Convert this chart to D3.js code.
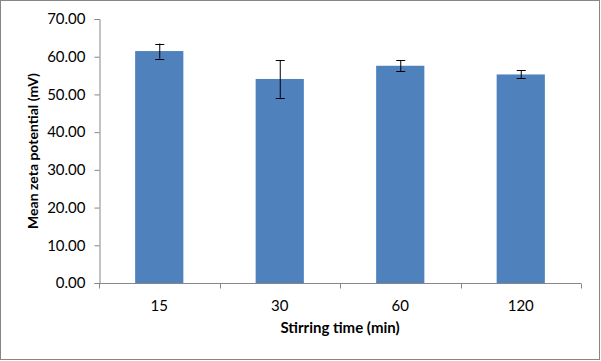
<!DOCTYPE html>
<html>
<head>
<meta charset="utf-8">
<script src="https://cdn.jsdelivr.net/npm/d3@7"></script>
<style>
  body { margin: 0; background: #fff; }
  text { font-family: Lato, "Open Sans", sans-serif; }
</style>
</head>
<body>
<svg id="chart" width="601" height="361"></svg>
<script>
const categories = ["15", "30", "60", "120"];
const means = [61.5, 54.1, 57.6, 55.3];
const errors = [2.0, 5.0, 1.5, 1.05];
const yTicks = [0, 10, 20, 30, 40, 50, 60, 70];

const svg = d3.select("#chart");
const margin = { left: 99, right: 20, top: 19, bottom: 78 };
const width = 601, height = 361;

// outer frame
svg.append("rect")
  .attr("x", 0.5).attr("y", 0.5)
  .attr("width", width - 2).attr("height", height - 2)
  .attr("fill", "#fff").attr("stroke", "#868686");

const x = d3.scaleBand()
  .domain(categories)
  .range([margin.left, width - margin.right])
  .paddingInner(0.6).paddingOuter(0.3);

const y = d3.scaleLinear()
  .domain([0, 70])
  .range([height - margin.bottom, margin.top]);

const data = categories.map((c, i) => ({ cat: c, mean: means[i], err: errors[i] }));

// bars
svg.selectAll(".bar")
  .data(data)
  .enter().append("rect")
  .attr("class", "bar")
  .attr("x", d => x(d.cat))
  .attr("y", d => y(d.mean))
  .attr("width", x.bandwidth())
  .attr("height", d => y(0) - y(d.mean))
  .attr("fill", "#4F81BD");

// y axis
const yAxis = svg.append("g")
  .attr("transform", `translate(${margin.left + 0.5},0)`)
  .call(d3.axisLeft(y).tickValues(yTicks).tickFormat(d3.format(".2f")).tickSize(5).tickPadding(9));
yAxis.select(".domain").attr("stroke", "#868686");
yAxis.selectAll(".tick line").attr("stroke", "#868686");
yAxis.selectAll(".tick text").attr("font-size", 15).attr("fill", "#000");

// x axis with tick marks between categories
const xAxisG = svg.append("g")
  .attr("transform", `translate(0,${y(0) + 0.5})`);
const xLeft = margin.left, xRight = width - margin.right;
xAxisG.append("line")
  .attr("x1", xLeft).attr("x2", xRight)
  .attr("stroke", "#868686");
const step = (xRight - xLeft) / categories.length;
xAxisG.selectAll(".xtick")
  .data(d3.range(categories.length + 1))
  .enter().append("line")
  .attr("x1", i => Math.round(xLeft + i * step) + 0.5)
  .attr("x2", i => Math.round(xLeft + i * step) + 0.5)
  .attr("y1", 0).attr("y2", 5)
  .attr("stroke", "#868686");
xAxisG.selectAll(".xlabel")
  .data(categories)
  .enter().append("text")
  .attr("x", d => x(d) + x.bandwidth() / 2)
  .attr("y", 27)
  .attr("text-anchor", "middle")
  .attr("font-size", 15)
  .text(d => d);

// error bars
const eb = svg.selectAll(".err")
  .data(data)
  .enter().append("g")
  .attr("stroke", "#000")
  .attr("stroke-width", 1);
eb.append("line")
  .attr("x1", d => x(d.cat) + x.bandwidth() / 2 + 0.5)
  .attr("x2", d => x(d.cat) + x.bandwidth() / 2 + 0.5)
  .attr("y1", d => y(d.mean + d.err))
  .attr("y2", d => y(d.mean - d.err));
eb.append("line")
  .attr("x1", d => x(d.cat) + x.bandwidth() / 2 - 4)
  .attr("x2", d => x(d.cat) + x.bandwidth() / 2 + 5)
  .attr("y1", d => Math.round(y(d.mean + d.err)) + 0.5)
  .attr("y2", d => Math.round(y(d.mean + d.err)) + 0.5);
eb.append("line")
  .attr("x1", d => x(d.cat) + x.bandwidth() / 2 - 4)
  .attr("x2", d => x(d.cat) + x.bandwidth() / 2 + 5)
  .attr("y1", d => Math.round(y(d.mean - d.err)) + 0.5)
  .attr("y2", d => Math.round(y(d.mean - d.err)) + 0.5);

// axis titles
svg.append("text")
  .attr("transform", `translate(38,${(y(0) + y(70)) / 2}) rotate(-90)`)
  .attr("text-anchor", "middle")
  .attr("font-size", 14)
  .attr("font-weight", "bold")
  .text("Mean zeta potential (mV)");

svg.append("text")
  .attr("x", (xLeft + xRight) / 2)
  .attr("y", 333)
  .attr("text-anchor", "middle")
  .attr("font-size", 15)
  .attr("font-weight", "bold")
  .text("Stirring time (min)");
</script>
</body>
</html>
